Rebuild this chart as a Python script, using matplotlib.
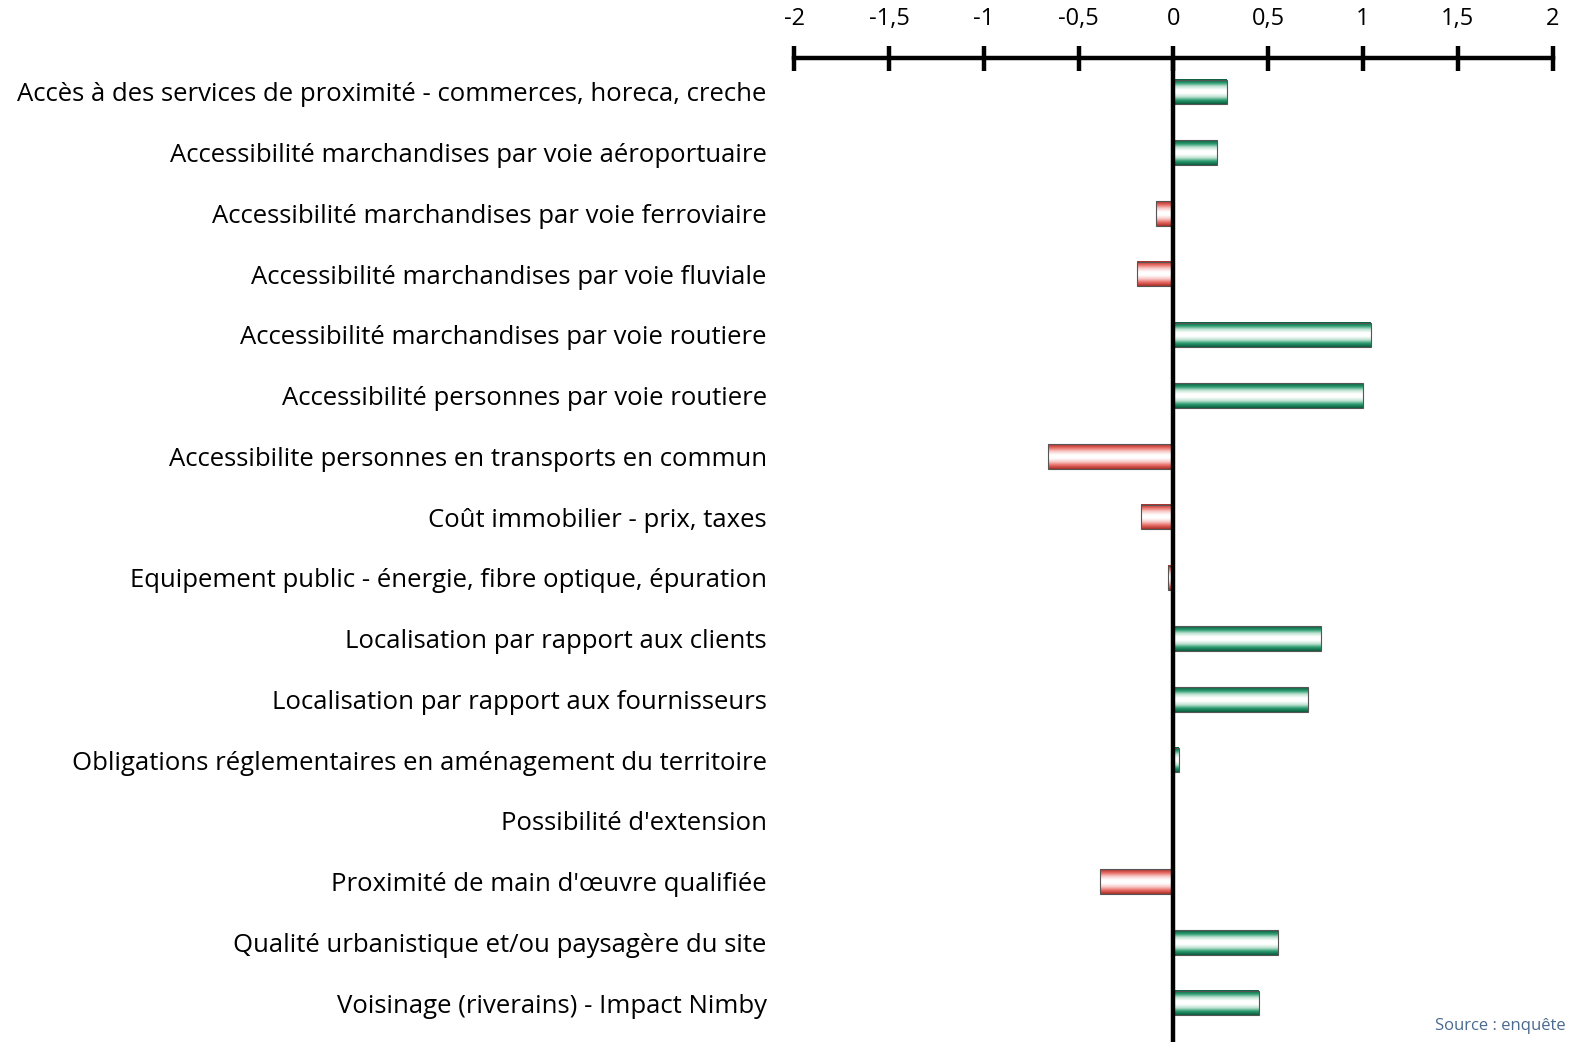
import numpy as np
import matplotlib
matplotlib.use("Agg")
import matplotlib.pyplot as plt
from matplotlib.colors import LinearSegmentedColormap

plt.rcParams['font.family'] = ['Open Sans', 'DejaVu Sans']

categories = [
    "Accès à des services de proximité - commerces, horeca, creche",
    "Accessibilité marchandises par voie aéroportuaire",
    "Accessibilité marchandises par voie ferroviaire",
    "Accessibilité marchandises par voie fluviale",
    "Accessibilité marchandises par voie routiere",
    "Accessibilité personnes par voie routiere",
    "Accessibilite personnes en transports en commun",
    "Coût immobilier - prix, taxes",
    "Equipement public - énergie, fibre optique, épuration",
    "Localisation par rapport aux clients",
    "Localisation par rapport aux fournisseurs",
    "Obligations réglementaires en aménagement du territoire",
    "Possibilité d'extension",
    "Proximité de main d'œuvre qualifiée",
    "Qualité urbanistique et/ou paysagère du site",
    "Voisinage (riverains) - Impact Nimby",
]
values = [0.28, 0.23, -0.09, -0.19, 1.04, 1.00, -0.66, -0.17, -0.03,
          0.78, 0.71, 0.03, -0.01, -0.39, 0.55, 0.45]

tick_values = [-2, -1.5, -1, -0.5, 0, 0.5, 1, 1.5, 2]
tick_labels = ["-2", "-1,5", "-1", "-0,5", "0", "0,5", "1", "1,5", "2"]

green_cmap = LinearSegmentedColormap.from_list(
    "g", ["#0b5e3e", "#2a9a6e", "#bfe3d3", "#ffffff", "#ffffff", "#bfe3d3", "#2a9a6e", "#0b5e3e"])
red_cmap = LinearSegmentedColormap.from_list(
    "r", ["#a83028", "#e86a64", "#f7c9c6", "#ffffff", "#ffffff", "#f7c9c6", "#e86a64", "#a83028"])

fig = plt.figure(figsize=(15.81, 10.42), dpi=100)
ax = fig.add_axes([0.5025, 0.0, 0.4795, 0.9445])

y = np.arange(len(categories))
bars = ax.barh(y, values, height=0.4, color="none", edgecolor="none")

grad = np.linspace(0, 1, 64).reshape(-1, 1)
for bar, v in zip(bars, values):
    x0, y0 = bar.get_x(), bar.get_y()
    w, h = bar.get_width(), bar.get_height()
    cmap = green_cmap if v >= 0 else red_cmap
    ax.imshow(grad, cmap=cmap, aspect="auto", interpolation="bilinear",
              extent=(x0, x0 + w, y0 + h, y0), zorder=2)
    ax.add_patch(plt.Rectangle((x0, y0), w, h, fill=False, edgecolor="#555555",
                               linewidth=0.8, zorder=3))

ax.set_xlim(-2, 2)
ax.set_ylim(len(categories) - 0.36, -0.56)
ax.axvline(0, color="black", linewidth=3.2, zorder=4)

for s in ["left", "right", "bottom"]:
    ax.spines[s].set_visible(False)
ax.spines["top"].set_linewidth(3.2)
ax.spines["top"].set_zorder(5)

ax.xaxis.set_ticks_position("top")
ax.set_xticks(tick_values)
ax.set_xticklabels(tick_labels, fontsize=17)
ax.tick_params(axis="x", direction="inout", length=18, width=3.2, pad=10)

ax.set_yticks(y)
ax.set_yticklabels(categories, fontsize=18.5)
ax.tick_params(axis="y", length=0, pad=20)

fig.text(0.99, 0.008, "Source : enquête", ha="right", va="bottom",
         fontsize=12, color="#4a6a90")

fig.savefig("out.png", dpi=100)
